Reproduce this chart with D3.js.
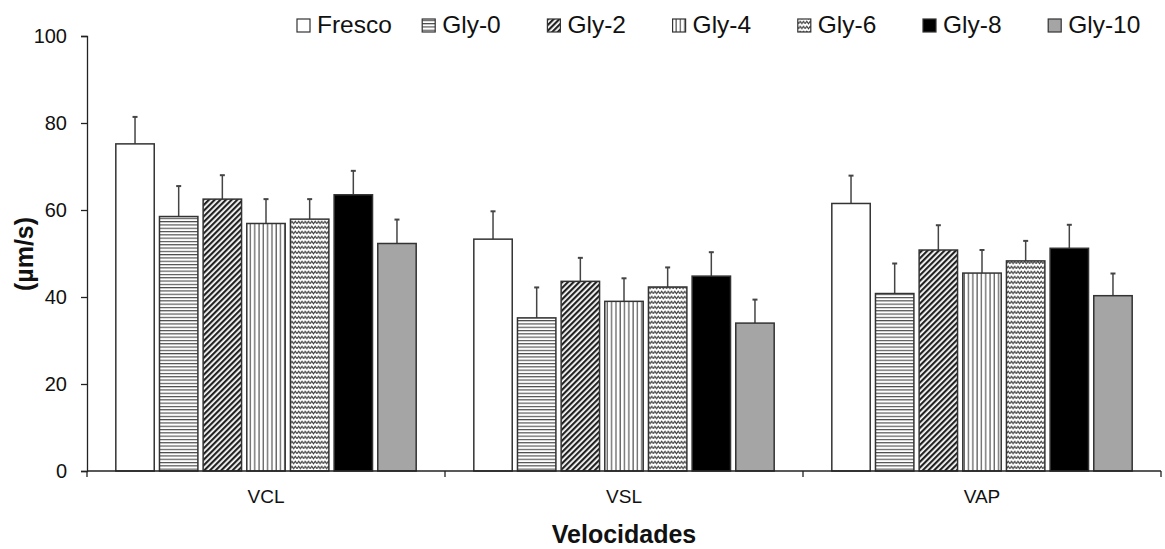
<!DOCTYPE html>
<html><head><meta charset="utf-8">
<script src="https://cdn.jsdelivr.net/npm/d3@7"></script>
<style>body{margin:0;background:#fff}svg{display:block}text{font-family:"Liberation Sans",Arial,sans-serif}</style>
</head><body><svg id="c" width="1165" height="549"></svg>
<script>
const categories = ["VCL","VSL","VAP"];
const seriesNames = ["Fresco","Gly-0","Gly-2","Gly-4","Gly-6","Gly-8","Gly-10"];
const fresco = [75.2,53.3,61.5];
const gly0 = [58.5,35.2,40.8];
const gly2 = [62.5,43.6,50.8];
const gly4 = [56.9,39.0,45.5];
const gly6 = [57.9,42.3,48.3];
const gly8 = [63.5,44.8,51.2];
const gly10 = [52.3,34.0,40.3];
const errFresco = [6.2,6.4,6.4];
const errGly0 = [7.0,7.0,6.9];
const errGly2 = [5.5,5.4,5.7];
const errGly4 = [5.6,5.3,5.3];
const errGly6 = [4.6,4.5,4.6];
const errGly8 = [5.5,5.5,5.4];
const errGly10 = [5.5,5.4,5.1];
const yTicks = [0,20,40,60,80,100];

const values = [fresco,gly0,gly2,gly4,gly6,gly8,gly10];
const errors = [errFresco,errGly0,errGly2,errGly4,errGly6,errGly8,errGly10];

const svg = d3.select("#c");
const defs = svg.append("defs");
const ink = "#333";
function pat(id,w,h,draw){const p=defs.append("pattern").attr("id",id).attr("patternUnits","userSpaceOnUse").attr("width",w).attr("height",h);p.append("rect").attr("width",w).attr("height",h).attr("fill","#fff");draw(p);}
pat("hz",4,3.3,p=>p.append("line").attr("x1",0).attr("x2",4).attr("y1",0.6).attr("y2",0.6).attr("stroke",ink).attr("stroke-width",1));
pat("dg",4,4,p=>{p.attr("patternTransform","rotate(45)");p.append("rect").attr("x",0).attr("y",0).attr("width",2.2).attr("height",4).attr("fill","#222");});
pat("vt",4.3,4,p=>p.append("line").attr("x1",1).attr("x2",1).attr("y1",0).attr("y2",4).attr("stroke",ink).attr("stroke-width",1));
pat("wv",6.6,5,p=>p.append("path").attr("d","M0,3.8 L1.65,1.2 L3.3,3.8 L4.95,1.2 L6.6,3.8").attr("fill","none").attr("stroke","#3a3a3a").attr("stroke-width",1.1));
const fills = ["#fff","url(#hz)","url(#dg)","url(#vt)","url(#wv)","#000","#a5a5a5"];

const x0 = d3.scaleBand().domain(categories).range([87,1161]).padding(0);
const x1 = d3.scaleBand().domain(seriesNames).range([0,x0.bandwidth()]).paddingInner(0.12).paddingOuter(0.66);
const y = d3.scaleLinear().domain([0,100]).range([471,36]);

const data=[];
categories.forEach((c,ci)=>seriesNames.forEach((s,si)=>data.push({c,s,si,v:values[si][ci],e:errors[si][ci]})));
const eg = svg.append("g");
data.forEach(d=>{
  const cx = x0(d.c)+x1(d.s)+x1.bandwidth()/2;
  eg.append("line").attr("x1",cx).attr("x2",cx).attr("y1",y(d.v)).attr("y2",y(d.v+d.e)).attr("stroke","#444").attr("stroke-width",1.5);
  eg.append("line").attr("x1",cx-2.5).attr("x2",cx+2.5).attr("y1",y(d.v+d.e)).attr("y2",y(d.v+d.e)).attr("stroke","#444").attr("stroke-width",2);
});
svg.append("g").selectAll("rect").data(data).join("rect")
  .attr("x",d=>x0(d.c)+x1(d.s)).attr("width",x1.bandwidth())
  .attr("y",d=>y(d.v)).attr("height",d=>y(0)-y(d.v))
  .attr("fill",d=>fills[d.si]).attr("stroke","#333").attr("stroke-width",1.5);

// y axis
const ya = svg.append("g").attr("transform","translate(87,0)").call(d3.axisLeft(y).tickValues(yTicks).tickSize(6).tickPadding(14));
ya.select(".domain").attr("stroke","#222").attr("stroke-width",1.3);
ya.selectAll(".tick line").attr("stroke","#222").attr("stroke-width",1.3);
ya.selectAll("text").attr("font-size",20).attr("fill","#111").attr("font-family","Liberation Sans, Arial, sans-serif");

// x axis
const xa = svg.append("g").attr("transform","translate(0,471)");
xa.append("line").attr("x1",87).attr("x2",1161).attr("y1",0).attr("y2",0).attr("stroke","#222").attr("stroke-width",1.3);
const bounds = categories.map(c=>x0(c)).concat([x0(categories[categories.length-1])+x0.bandwidth()]);
xa.selectAll("line.t").data(bounds).join("line").attr("class","t").attr("x1",d=>d).attr("x2",d=>d).attr("y1",0).attr("y2",6).attr("stroke","#222").attr("stroke-width",1.3);
xa.selectAll("text").data(categories).join("text").attr("x",d=>x0(d)+x0.bandwidth()/2).attr("y",32)
  .attr("text-anchor","middle").attr("font-size",19).attr("fill","#111").text(d=>d);

// titles
svg.append("text").attr("x",624).attr("y",543).attr("text-anchor","middle").attr("font-size",25).attr("font-weight","bold").attr("fill","#111").text("Velocidades");
svg.append("text").attr("transform","translate(33,254) rotate(-90)").attr("text-anchor","middle").attr("font-size",25).attr("font-weight","bold").attr("fill","#111").text("(µm/s)");

// legend
const lg = svg.append("g");
seriesNames.forEach((s,i)=>{
  const gx = 297 + i*125.2;
  lg.append("rect").attr("x",gx).attr("y",19).attr("width",13).attr("height",13).attr("fill",fills[i]).attr("stroke","#333").attr("stroke-width",1.2);
  lg.append("text").attr("x",gx+20).attr("y",33).attr("font-size",24.5).attr("fill","#111").text(s);
});
</script></body></html>
